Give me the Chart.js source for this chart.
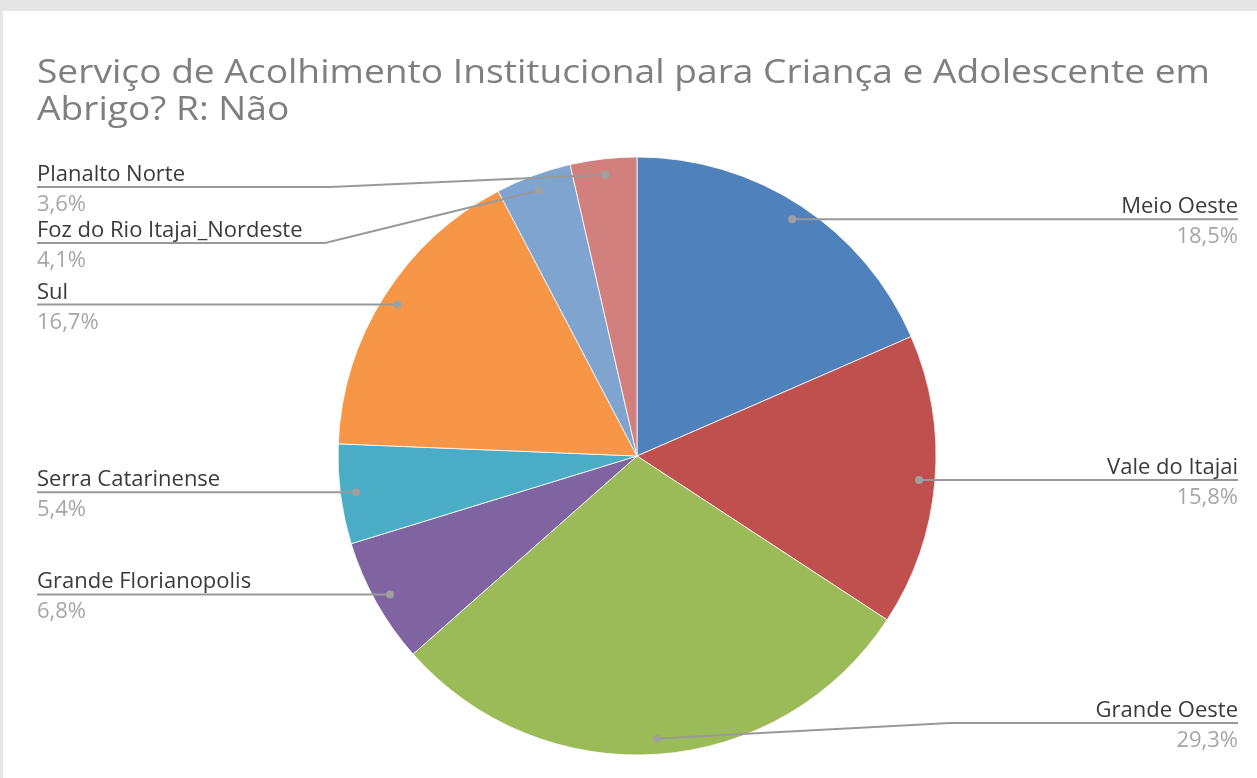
<!DOCTYPE html>
<html>
<head>
<meta charset="utf-8">
<script src="https://cdn.jsdelivr.net/npm/chart.js@4.4.0/dist/chart.umd.min.js"></script>
<style>
  html, body { margin: 0; padding: 0; background: #e8e8e8; }
  canvas { display: block; }
</style>
</head>
<body>
<canvas id="chart" width="1257" height="778"></canvas>
<script>
// Chart data
const regions = ['Meio Oeste', 'Vale do Itajai', 'Grande Oeste', 'Grande Florianopolis',
  'Serra Catarinense', 'Sul', 'Foz do Rio Itajai_Nordeste', 'Planalto Norte'];
const shares = [18.5, 15.8, 29.3, 6.8, 5.4, 16.7, 4.1, 3.6];
const sliceColors = ['#4f81bd', '#c0504d', '#9bbb59', '#8064a2',
  '#4bacc6', '#f79646', '#80a4d0', '#d2807e'];
const titleLines = ['Serviço de Acolhimento Institucional para Criança e Adolescente em', 'Abrigo? R: Não'];

// Where some labels were moved to avoid overlap (label line y and elbow x)
const labelMoves = {
  2: { y: 723, elbowX: 950 },
  6: { y: 243, elbowX: 325 },
  7: { y: 187, elbowX: 330 }
};

function pct(v) {
  return v.toFixed(1).replace('.', ',') + '%';
}

// Draw the page frame and the title behind the pie
const framePlugin = {
  id: 'frame',
  beforeDraw(chart) {
    const ctx = chart.ctx;
    ctx.save();
    ctx.fillStyle = '#e6e6e6';
    ctx.fillRect(0, 0, chart.width, chart.height);
    ctx.fillStyle = '#ffffff';
    ctx.fillRect(3, 11, chart.width - 3, chart.height - 11);

    ctx.fillStyle = '#7f7f7f';
    ctx.font = '33px "Open Sans"';
    ctx.textBaseline = 'alphabetic';
    const w = ctx.measureText(titleLines[0]).width;
    const sx = 1173 / w;
    ctx.translate(37, 0);
    ctx.scale(sx, 1);
    ctx.fillText(titleLines[0], 0, 83);
    ctx.fillText(titleLines[1], 0, 120);
    ctx.restore();
  }
};

// Leader lines and data labels outside the pie
const labelPlugin = {
  id: 'outLabels',
  afterDatasetsDraw(chart) {
    const ctx = chart.ctx;
    const arcs = chart.getDatasetMeta(0).data;
    ctx.save();
    arcs.forEach((arc, i) => {
      const mid = (arc.startAngle + arc.endAngle) / 2;
      const r = arc.outerRadius * 0.947;
      const ax = arc.x + Math.cos(mid) * r;
      const ay = arc.y + Math.sin(mid) * r;
      const right = Math.cos(mid) > 0;
      const move = labelMoves[i];
      const lineY = move ? move.y : ay;
      const endX = right ? 1238 : 37;

      ctx.strokeStyle = '#999999';
      ctx.lineWidth = 2;
      ctx.beginPath();
      ctx.moveTo(ax, ay);
      if (move) ctx.lineTo(move.elbowX, lineY);
      ctx.lineTo(endX, lineY);
      ctx.stroke();

      ctx.fillStyle = '#a0a0a0';
      ctx.beginPath();
      ctx.arc(ax, ay, 4, 0, Math.PI * 2);
      ctx.fill();

      ctx.textAlign = right ? 'right' : 'left';
      ctx.textBaseline = 'alphabetic';
      ctx.font = '22px "Open Sans"';
      ctx.fillStyle = '#3a3a3a';
      ctx.fillText(regions[i], endX, lineY - 6);
      ctx.fillStyle = '#a6a6a6';
      ctx.fillText(pct(shares[i]), endX, lineY + 24);
    });
    ctx.restore();
  }
};

const ctx = document.getElementById('chart').getContext('2d');
const chart = new Chart(ctx, {
  type: 'pie',
  data: {
    labels: regions,
    datasets: [{
      data: shares,
      backgroundColor: sliceColors,
      borderColor: '#ffffff',
      borderWidth: 0.8
    }]
  },
  options: {
    responsive: false,
    animation: false,
    devicePixelRatio: 1,
    radius: 299,
    layout: { padding: { top: 157, bottom: 23, left: 300, right: 283 } },
    plugins: {
      legend: { display: false },
      tooltip: { enabled: false },
      title: { display: false }
    }
  },
  plugins: [framePlugin, labelPlugin]
});
</script>
</body>
</html>
